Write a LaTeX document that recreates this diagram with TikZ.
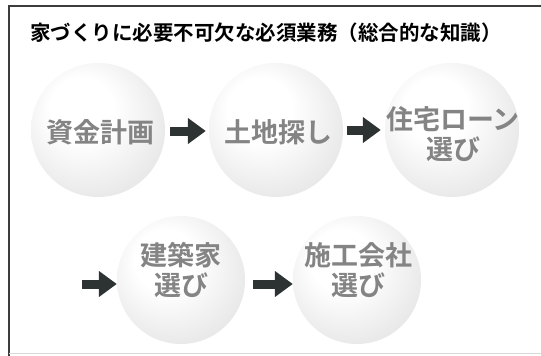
\documentclass[tikz,border=0pt]{standalone}
\usepackage{fontspec}
\newfontfamily\cjk{Noto Sans CJK JP}[BoldFont={Noto Sans CJK JP Bold}]
\usetikzlibrary{arrows.meta}
\definecolor{framecol}{RGB}{60,60,60}
\definecolor{arrowcol}{RGB}{45,50,50}
\definecolor{textgray}{RGB}{132,132,132}
\pgfdeclareradialshading{sphere}{\pgfpoint{-8bp}{10bp}}{%
  color(0bp)=(white);
  color(12bp)=(white);
  color(30bp)=(black!9);
  color(43bp)=(black!25);
  color(50bp)=(black!34)}
\tikzset{
  ball/.style={circle, minimum size=#1, inner sep=0pt, shading=sphere},
  balltext/.style={font=\cjk\bfseries\fontsize{27}{30}\selectfont, text=textgray, align=center, inner sep=0pt},
  flow/.style={draw=arrowcol, line width=9pt,
    -{Triangle[length=18pt,width=25pt]}},
  frameline/.style={draw=framecol, line width=1.6pt}
}
\begin{document}
\begin{tikzpicture}[x=1pt,y=-1pt]
\useasboundingbox (0,0) rectangle (541,356);
\fill[white] (0,0) rectangle (541,356);
% frame
\coordinate (tl) at (9,6);
\coordinate (tr) at (541,6);
\coordinate (bl) at (9,356);
\draw[frameline] (tr) -- (tl) -- (bl);
\draw[draw=black!15, line width=1pt] (9,353) -- (541,353);
% title
\node (title) at (266,33) {\cjk\bfseries\fontsize{20.5}{24}\selectfont 家づくりに必要不可欠な必須業務（総合的な知識）};
% balls
\node[ball=134pt] (c1) at (98,130) {};
\node[ball=134pt] (c2) at (276,130) {};
\node[ball=134pt] (c3) at (452,130) {};
\node[ball=128pt] (c4) at (181,280) {};
\node[ball=128pt] (c5) at (357,280) {};
% ball texts
\node[balltext] (t1) at (100,132) {資金計画};
\node[balltext] (t2) at (278,132) {土地探し};
\node[balltext] (t3) at (453,134) {住宅ローン\\選び};
\node[balltext] (t4) at (181,270) {建築家\\選び};
\node[balltext] (t5) at (358,270) {施工会社\\選び};
% arrows
\coordinate (s3) at (82,284);
\draw[flow] ([xshift=5pt]c1.east |- 0,131) -- ([xshift=-3pt]c2.west |- 0,131);
\draw[flow] ([xshift=4pt]c2.east |- 0,130) -- ([xshift=-4pt]c3.west |- 0,130);
\draw[flow] (s3) -- (c4.west |- 0,284);
\draw[flow] ([xshift=8pt]c4.east |- 0,284) -- (c5.west |- 0,284);
\end{tikzpicture}
\end{document}
